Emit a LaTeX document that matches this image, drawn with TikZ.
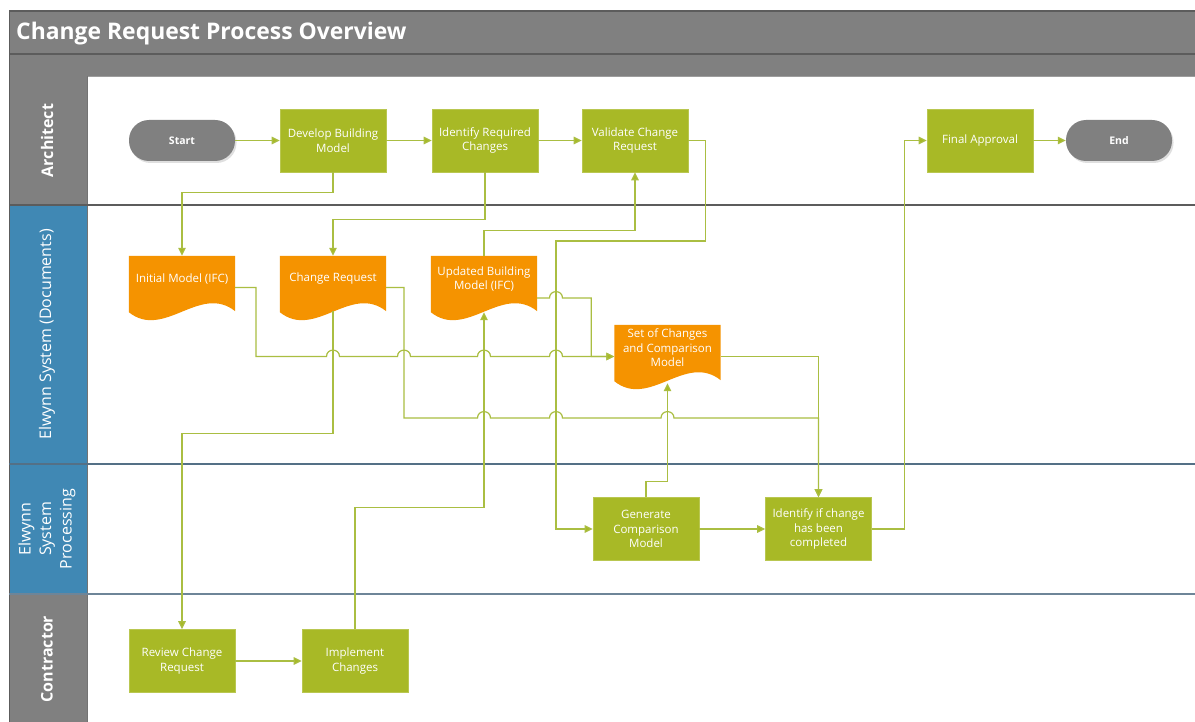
\documentclass[tikz,border=0pt]{standalone}
\usepackage{fontspec}
\setmainfont{Open Sans}
\usetikzlibrary{arrows.meta,calc,shadows}
\definecolor{hdrgray}{RGB}{128,128,128}
\definecolor{hdrline}{RGB}{92,92,92}
\definecolor{laneblue}{RGB}{64,136,180}
\definecolor{bluerule}{RGB}{84,112,134}
\definecolor{procgreen}{RGB}{168,185,38}
\definecolor{docorange}{RGB}{245,147,0}
\definecolor{linkgreen}{RGB}{170,190,66}
\pgfdeclarelayer{lanes}
\pgfdeclarelayer{docfill}
\pgfsetlayers{lanes,docfill,main}
\newcommand\hop[2]{-- (#1-6.5,#2) .. controls (#1-6.5,#2-8.5) and (#1+6.5,#2-8.5) .. (#1+6.5,#2)}
\begin{document}
\begin{tikzpicture}[x=1pt,y=-1pt,
  txt/.style={font=\fontsize{11.5}{14.5}\selectfont},
  proc/.style={rectangle, fill=procgreen, draw=procgreen!80!white, line width=0.6pt,
    minimum width=106pt, minimum height=63pt, text=white, align=center, txt, inner sep=1pt},
  term/.style={rectangle, rounded corners=20pt, fill=hdrgray, minimum width=106pt,
    minimum height=41pt, text=white, font=\fontsize{10.5}{13}\selectfont\bfseries,
    drop shadow={shadow xshift=1.5pt, shadow yshift=-2pt, opacity=0.25}},
  doc/.style={rectangle, minimum width=106pt, minimum height=46pt, text=white,
    align=center, txt, inner sep=1pt},
  link/.style={draw=linkgreen, line width=1.2pt, -{Triangle[length=8pt,width=7.5pt,fill=procgreen]}},
  lanelbl/.style={rotate=90, text=white, align=center, inner sep=0pt},
  rule/.style={line width=1.2pt}
]
\useasboundingbox (0,0) rectangle (1195,722);
\clip (0,0) rectangle (1195,722);

\begin{pgfonlayer}{lanes}
  \fill[white] (0,0) rectangle (1195,722);
  \fill[hdrgray] (9,11) rectangle (1200,76);
  \fill[hdrgray] (9,76) rectangle (87,205);
  \fill[laneblue] (9,205) rectangle (87,464);
  \fill[laneblue] (9,464) rectangle (87,594);
  \fill[hdrgray] (9,594) rectangle (87,730);
  \draw[hdrline, rule] (9,11) -- (1200,11);
  \draw[hdrline, rule] (9,54) -- (1200,54);
  \draw[hdrline!60, line width=0.8pt] (87,76) -- (1200,76);
  \draw[hdrline, line width=1pt] (9,11) -- (9,730);
  \draw[black!55, line width=0.8pt] (87,76) -- (87,730);
  \draw[hdrline, rule] (9,205) -- (1200,205);
  \draw[bluerule, line width=1.6pt] (9,464) -- (1200,464);
  \draw[bluerule!85, line width=1.4pt] (9,594) -- (1200,594);
\end{pgfonlayer}

% title and lane labels
\node[anchor=base west, inner sep=0pt, text=white, font=\fontsize{22.9}{27}\selectfont\bfseries]
  (title) at (16,40) {Change Request Process Overview};
\node[lanelbl, font=\fontsize{16}{20}\selectfont\bfseries] (lArch) at (47,140.5) {Architect};
\node[lanelbl, font=\fontsize{16}{20}\selectfont] (lDocs) at (47,334.5) {Elwynn System (Documents)};
\node[lanelbl, font=\fontsize{16}{20.5}\selectfont] (lProc) at (47,529) {Elwynn\\System\\Processing};
\node[lanelbl, font=\fontsize{16}{20}\selectfont\bfseries] (lCont) at (47,659) {Contractor};

% Architect lane
\node[term] (start) at (182,140.5) {Start};
\node[proc] (dev) at (333,140.5) {Develop Building\\Model};
\node[proc] (irc) at (485,140.5) {Identify Required\\Changes};
\node[proc] (vcr) at (635,140.5) {Validate Change\\Request};
\node[proc] (fin) at (980,140.5) {Final Approval};
\node[term] (end) at (1119,140.5) {End};

% Documents lane
\node[doc] (init) at (182,279) {Initial Model (IFC)};
\node[doc] (cr) at (333,279) {Change Request};
\node[doc] (ubm) at (484,279) {Updated Building\\Model (IFC)};
\node[doc] (set) at (667.5,348) {Set of Changes\\and Comparison\\Model};

\begin{pgfonlayer}{docfill}
  \foreach \d in {init,cr,ubm,set}{
    \fill[docorange] (\d.north west) -- (\d.north east) -- ($(\d.south east)+(0,9)$)
      .. controls ($(\d.south)+(18,-19)$) and ($(\d.south)+(-18,38)$) .. ($(\d.south west)+(0,10)$) -- cycle;
  }
\end{pgfonlayer}

% Processing lane
\node[proc] (gen) at (646,529) {Generate\\Comparison\\Model};
\node[proc] (idc) at (818.5,529) {Identify if change\\has been\\completed};

% Contractor lane
\node[proc] (rcr) at (182,661) {Review Change\\Request};
\node[proc] (imp) at (355,661) {Implement\\Changes};

% connectors
\draw[link] (start.east) -- (dev.west);
\draw[link] (dev.east) -- (irc.west);
\draw[link] (irc.east) -- (vcr.west);
\draw[link] (fin.east) -- (end.west);
\draw[link] (dev.south) -- ++(0,20) -| (init.north);
\draw[link] (irc.south) -- ++(0,47) -| (cr.north);
\draw[link] (vcr.east) -- ++(17,0) |- (556,241) |- (gen.west);
\draw[link] (ubm.north) -- ++(0,-25) -| (vcr.south);
\draw[link] ($(init.east)+(0,8.5)$) -| (256,356.5) \hop{333}{356.5} \hop{404}{356.5}
  \hop{484}{356.5} \hop{556}{356.5} -- ($(set.west)+(0,8.5)$);
\draw[link] ($(cr.east)+(0,8.5)$) -| (404,418) \hop{484}{418} \hop{556}{418}
  \hop{667.5}{418} -| (idc.north);
\draw[link] ($(set.east)+(0,8.5)$) -| (idc.north);
\draw[link] ($(ubm.east)+(0,19)$) \hop{556}{298} -| ($(set.west)+(-23,8.5)$) -- ($(set.west)+(0,8.5)$);
\draw[link] ($(cr.south)+(0,9)$) -- ++(0,122) -| (rcr.north);
\draw[link] (rcr.east) -- (imp.west);
\draw[link] (imp.north) -- ++(0,-121.5) -| ($(ubm.south)+(0,10)$);
\draw[link] (gen.north) -- ++(0,-16) -| ($(set.south)+(0,12)$);
\draw[link] (gen.east) -- (idc.west);
\draw[link] (idc.east) -- ++(33,0) |- (fin.west);
\end{tikzpicture}
\end{document}
